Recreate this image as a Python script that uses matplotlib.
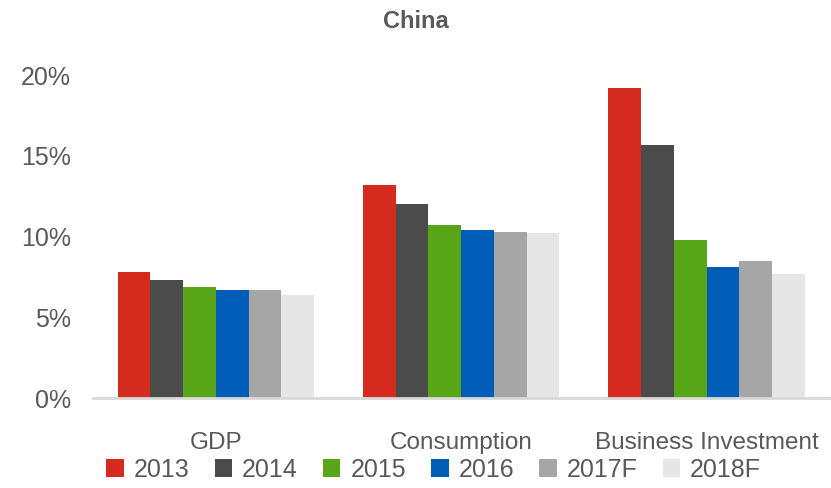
import matplotlib
matplotlib.use('Agg')
import matplotlib.pyplot as plt
import numpy as np

plt.rcParams['font.family'] = ['Liberation Sans', 'DejaVu Sans']

categories = ['GDP', 'Consumption', 'Business Investment']
years = ['2013', '2014', '2015', '2016', '2017F', '2018F']
values = {
    '2013': [7.8, 13.2, 19.2],
    '2014': [7.3, 12.0, 15.7],
    '2015': [6.9, 10.7, 9.8],
    '2016': [6.7, 10.4, 8.1],
    '2017F': [6.7, 10.3, 8.5],
    '2018F': [6.4, 10.2, 7.7],
}
colors = ['#D52B1E', '#4B4B4B', '#58A618', '#005EB8', '#A6A6A6', '#E6E6E6']
text_color = '#595959'

fig = plt.figure(figsize=(8.31, 4.88), dpi=100)
ax = fig.add_axes([0.112, 0.184, 0.886, 0.662])

x = np.arange(len(categories))
w = 0.8 / len(years)
for i, yr in enumerate(years):
    ax.bar(x - 0.4 + w * (i + 0.5), values[yr], width=w, color=colors[i], label=yr)

ax.set_xlim(-0.5, 2.5)
ax.set_ylim(0, 20)
ax.set_yticks([0, 5, 10, 15, 20])
ax.set_yticklabels(['0%', '5%', '10%', '15%', '20%'], fontsize=18, color=text_color)
ax.set_xticks(x)
ax.set_xticklabels(categories, fontsize=17.5, color=text_color)
ax.tick_params(axis='both', length=0)
ax.tick_params(axis='x', pad=24)
ax.tick_params(axis='y', pad=16)
for s in ['top', 'right', 'left']:
    ax.spines[s].set_visible(False)
ax.spines['bottom'].set_color('#D9D9D9')
ax.spines['bottom'].set_linewidth(2)

fig.text(0.5, 0.955, 'China', ha='center', va='center', fontsize=17,
         color=text_color, fontweight='bold')

leg = fig.legend(loc='center', bbox_to_anchor=(0.522, 0.037), ncol=6, frameon=False,
                 fontsize=18, handlelength=0.7, handleheight=0.7, handletextpad=0.4,
                 columnspacing=1.0, labelcolor=text_color)

fig.savefig('out.png', dpi=100)
